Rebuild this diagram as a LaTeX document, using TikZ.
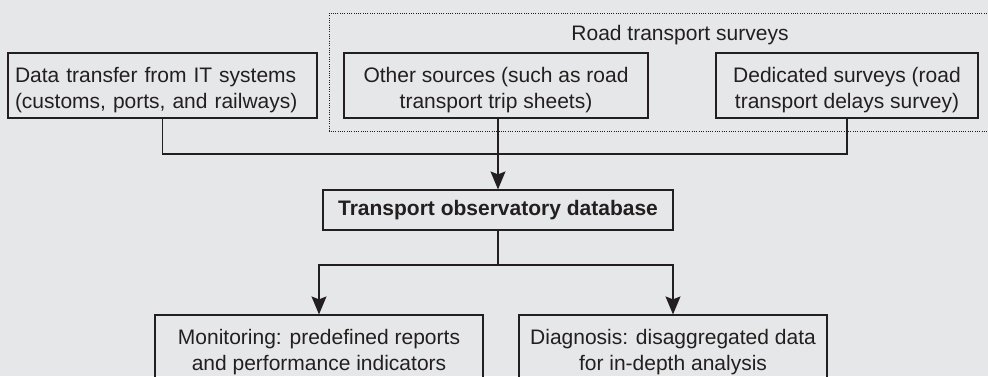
\documentclass[tikz,border=0pt]{standalone}
\usepackage{fontspec}
\setmainfont{Liberation Sans}
\usetikzlibrary{arrows.meta}
\definecolor{panel}{RGB}{230,231,232}
\definecolor{ink}{RGB}{35,31,32}
\newcommand{\lowline}{\rule{0pt}{24pt}}
\begin{document}
\begin{tikzpicture}[x=1pt,y=-1pt]
\tikzstyle{box}=[draw=ink, text=ink, line width=1.2pt, inner sep=0pt, font=\fontsize{21}{26}\selectfont, minimum height=65pt, align=center]
\tikzstyle{link}=[draw=ink, line width=1.2pt]
\tikzstyle{arrow}=[link, -{Stealth[length=18pt,width=15pt,inset=3pt]}]
\fill[panel] (0,0) rectangle (988,376);
\clip (0,0) rectangle (988,376);

\draw[ink, line width=0.8pt, dash pattern=on 1pt off 1.3pt] (329,13) rectangle (1000,131);
\node[text=ink, font=\fontsize{21}{26}\selectfont, anchor=base] (roadlabel) at (680,40) {Road transport surveys};

\node[box, text width=295pt, inner xsep=7pt, align=left] (itsystems) at (162.5,85.5) {\lowline Data transfer from IT systems\\(customs, ports, and railways)};
\node[box, minimum width=304pt] (othersrc) at (496,85.5) {\lowline Other sources (such as road\\transport trip sheets)};
\node[box, minimum width=262pt] (dedsurvey) at (847,85.5) {\lowline Dedicated surveys (road\\transport delays survey)};

\node[box, minimum width=350pt, minimum height=40pt, font=\fontsize{21}{26}\selectfont\bfseries] (obsdb) at (498,210) {Transport observatory database};

\node[box, minimum width=328pt] (monitoring) at (319,347.5) {\lowline Monitoring: predefined reports\\and performance indicators};
\node[box, minimum width=308pt] (diagnosis) at (673,347.5) {\lowline Diagnosis: disaggregated data\\for in-depth analysis};

\coordinate (merge) at (498,154);
\coordinate (split) at (498,265);
\draw[link] (itsystems.south) -- (itsystems.south |- merge) -| (dedsurvey.south);
\draw[arrow] (obsdb.north |- othersrc.south) -- (obsdb.north);
\draw[link] (obsdb.south) -- (split);
\draw[arrow] (split) -| (monitoring.north);
\draw[arrow] (split) -| (diagnosis.north);

\end{tikzpicture}
\end{document}
